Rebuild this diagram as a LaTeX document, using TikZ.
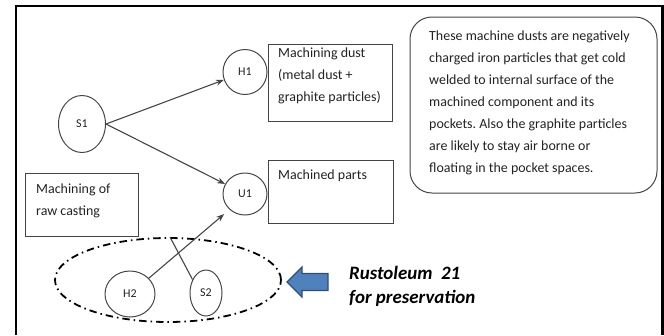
\documentclass[tikz,border=0pt]{standalone}
\usepackage{fontspec}
\setmainfont{Carlito}
\frenchspacing
\usetikzlibrary{shapes.geometric,arrows.meta,calc}
\definecolor{edge}{HTML}{454545}
\definecolor{ink}{HTML}{222222}
\definecolor{blockfill}{HTML}{4F81BD}
\definecolor{blockline}{HTML}{2F4F7A}
\tikzset{
  state/.style={ellipse, draw=edge, line width=1pt, inner sep=0pt, text=ink,
    font=\fontsize{12}{14}\selectfont},
  panel/.style={draw=edge, line width=1pt, inner sep=0pt},
  txt/.style={inner sep=0pt, anchor=north west, align=left, text=ink,
    font=\fontsize{14}{22}\selectfont},
  flow/.style={draw=edge, line width=1.1pt, -{Stealth[length=8pt,width=6pt]}},
  tie/.style={draw=edge, line width=1.1pt},
}
\begin{document}
\begin{tikzpicture}[x=1bp,y=-1bp]
\useasboundingbox (0,0) rectangle (664,335);
% outer frame, open at the bottom
\draw[line width=3pt] (16,335) -- (16,6) -- (662,6) -- (662,335);

% states
\node[state, minimum width=47bp, minimum height=57bp] (S1) at (82,124) {S1};
\node[state, minimum width=44bp, minimum height=45bp] (H1) at (245,72) {H1};
\node[state, minimum width=44bp, minimum height=42bp] (U1) at (245,194) {U1};
\node[state, minimum width=50bp, minimum height=46bp] (H2) at (130,294) {H2};
\node[state, minimum width=32bp, minimum height=46bp] (S2) at (206,293) {S2};

% boxes
\node[panel, minimum width=124bp, minimum height=77bp] (dustbox) at (330,82.5) {};
\node[txt] (dusttxt) at (278,48) {Machining dust\\(metal dust +\\graphite particles)};
\node[panel, minimum width=125bp, minimum height=63bp] (partbox) at (330.5,191.5) {};
\node[txt] (parttxt) at (278,170) {Machined parts};
\node[panel, minimum width=113bp, minimum height=63bp] (castbox) at (81.5,204.5) {};
\node[txt] (casttxt) at (36,184) {Machining of\\raw casting};

% note
\node[draw=edge, line width=1pt, rounded corners=22bp, minimum width=247bp,
  minimum height=176bp] (note) at (533.5,105) {};
\node[txt] (notetxt) at (429,31) {These machine dusts are negatively\\
charged iron particles that get cold\\
welded to internal surface of the\\
machined component and its\\
pockets. Also the graphite particles\\
are likely to stay air borne or\\
floating in the pocket spaces.};

% group of H2 and S2
\node[ellipse, draw=black, line width=1.8pt,
  dash pattern=on 7.5pt off 4pt on 1.5pt off 4pt,
  minimum width=226bp, minimum height=84bp] (grp) at (168,280) {};

% connectors
\draw[flow] (S1.east) -- (H1);
\draw[flow] (S1.east) -- (U1);
\draw[flow, shorten >=7bp] (H2.40) -- (U1.225);
\coordinate (s2end) at (170,237);
\draw[tie] (S2.135) -- (s2end);

% block arrow pointing at the group
\draw[fill=blockfill, draw=blockline, line width=1.2pt, line join=miter]
  (287,282) -- (302,267) -- (302,273.5) -- (328,273.5) -- (328,290.5)
  -- (302,290.5) -- (302,297) -- cycle;
\node[inner sep=0pt, anchor=west, align=left, text=black,
  font=\fontsize{19}{24}\selectfont\bfseries\itshape] (label) at (349,286)
  {Rustoleum\ \ 21\\for preservation};
\end{tikzpicture}
\end{document}
